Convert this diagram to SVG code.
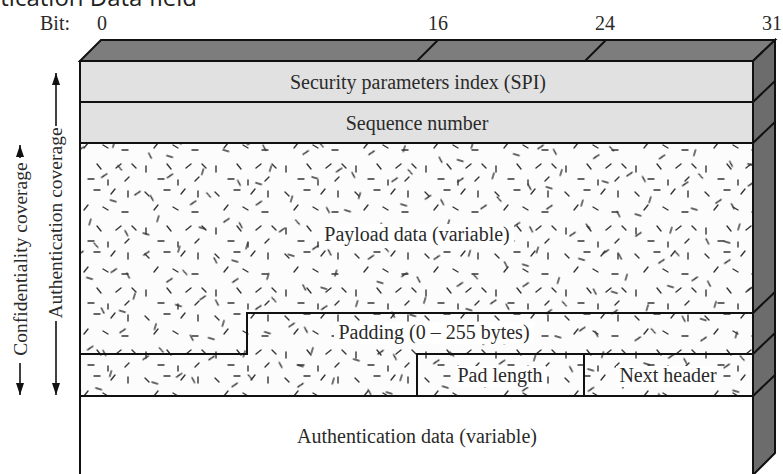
<svg xmlns="http://www.w3.org/2000/svg" width="783" height="474" viewBox="0 0 783 474">
<style>
.t{font-family:"Liberation Serif","Times New Roman",serif;font-size:20px;fill:#2a2a2a}
.c{text-anchor:middle}
.edge{stroke:#111;stroke-width:2;stroke-linejoin:miter}
.light{fill:#e1e1e1}
.tex{fill:url(#dashA)}
.tex2{fill:url(#dashB);stroke:none}
.top{fill:#7d7d7d}
.side{fill:#6c6c6c}
.arr{stroke:#111;stroke-width:1.6;fill:none}
.halo{fill:#fff}
.dd{stroke:#353535;stroke-width:1.4;stroke-linecap:round;fill:none}
</style>
<defs>
<pattern id="dashA" width="70" height="62" patternUnits="userSpaceOnUse">
<rect width="70" height="62" fill="#fcfcfc"/>
<path class="dd" d="M5 6l4 4M24 4h6M41 8l4-5M58 5v6M14 24l4-5M33 21l5 3M52 26h6M6 42v6M27 40l4 5M46 44l5-4M62 40l4 4M18 55h6M38 56v5M55 57l4-4"/>
</pattern>
<pattern id="dashB" width="93" height="81" patternUnits="userSpaceOnUse" patternTransform="rotate(17) translate(11 7)">
<path class="dd" d="M8 12h6M47 14v6M83 15l4 4M15 33l4-5M57 36l5 3M4 55l4 4M45 52l4-5M82 59l4-5M18 72v6M60 71h6"/>
</pattern>
<marker id="ah" viewBox="0 0 12 8" refX="12" refY="4" markerWidth="12" markerHeight="8" markerUnits="userSpaceOnUse" orient="auto">
<path d="M0 0L12 4L0 8z" fill="#111"/>
</marker>
</defs>
<rect width="783" height="474" fill="#fff"/>
<text x="197" y="6" text-anchor="end" style="font-family:'Open Sans','Noto Sans',sans-serif;font-size:24px;fill:#222">Authentication Data field</text>

<g id="bit-scale">
<text class="t" x="40" y="30">Bit:</text>
<text class="t c" x="102" y="30">0</text>
<text class="t c" x="438" y="30">16</text>
<text class="t c" x="605" y="30">24</text>
<text class="t c" x="772" y="30">31</text>
</g>

<g id="top-face">
<polygon class="top edge" points="80,61 101,40 775,40 753,61"/>
<line class="edge" x1="417" y1="61" x2="438" y2="40"/>
<line class="edge" x1="585" y1="61" x2="606" y2="40"/>
</g>

<g id="side-face">
<polygon class="side edge" points="753,61 775,40 775,453 753,475"/>
<path class="edge" d="M753 102L775 81M753 143L775 122M753 313L775 292M753 354L775 333M753 396L775 375" fill="none"/>
</g>

<g id="spi">
<rect class="light edge" x="80" y="61" width="673" height="41"/>
<text class="t c" x="418" y="89">Security parameters index (SPI)</text>
</g>

<g id="sequence-number">
<rect class="light edge" x="80" y="102" width="673" height="41"/>
<text class="t c" x="417" y="130">Sequence number</text>
</g>

<g id="payload">
<polygon class="tex edge" points="80,143 753,143 753,313 247,313 247,354 80,354"/>
<polygon class="tex2" points="81,144 752,144 752,312 246,312 246,353 81,353"/>
<rect class="halo" x="320" y="224" width="194" height="24"/>
<text class="t c" x="417" y="241">Payload data (variable)</text>
</g>

<g id="padding">
<polygon class="tex edge" points="247,313 753,313 753,354 417,354 417,396 80,396 80,354 247,354"/>
<polygon class="tex2" points="248,314 752,314 752,353 416,353 416,395 81,395 81,355 248,355"/>
<rect class="halo" x="334" y="322" width="200" height="22"/>
<text class="t c" x="434" y="339">Padding (0 – 255 bytes)</text>
</g>

<g id="pad-length">
<rect class="tex edge" x="417" y="354" width="167" height="42"/>
<rect class="tex2" x="418" y="355" width="165" height="40"/>
<rect class="halo" x="456" y="366" width="90" height="21"/>
<text class="t c" x="500" y="382">Pad length</text>
</g>

<g id="next-header">
<rect class="tex edge" x="584" y="354" width="169" height="42"/>
<rect class="tex2" x="585" y="355" width="167" height="40"/>
<rect class="halo" x="616" y="366" width="104" height="21"/>
<text class="t c" x="668" y="382">Next header</text>
</g>

<g id="authentication-data">
<path class="edge" d="M80 396H753M80 396V476M753 396V476" fill="none"/>
<text class="t c" x="417" y="443">Authentication data (variable)</text>
</g>

<g id="coverage-labels">
<text class="t c" transform="translate(62,223) rotate(-90)" style="font-size:19.5px">Authentication coverage</text>
<text class="t c" transform="translate(27,259) rotate(-90)" style="font-size:19.5px">Confidentiality coverage</text>
</g>

<g id="connectors">
<line class="arr" x1="56" y1="126" x2="56" y2="73" marker-end="url(#ah)"/>
<line class="arr" x1="56" y1="321" x2="56" y2="395" marker-end="url(#ah)"/>
<line class="arr" x1="20" y1="158" x2="20" y2="145" marker-end="url(#ah)"/>
<line class="arr" x1="20" y1="363" x2="20" y2="395" marker-end="url(#ah)"/>
</g>
</svg>
